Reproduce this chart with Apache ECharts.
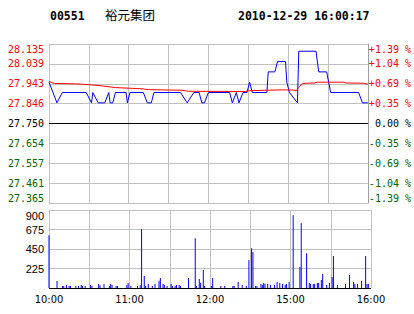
<!DOCTYPE html>
<html><head><meta charset="utf-8">
<script src="https://cdn.jsdelivr.net/npm/echarts@6/dist/echarts.min.js"></script>
<style>html,body{margin:0;padding:0;background:#fff}#c{width:414px;height:314px}</style>
</head><body><div id="c"></div>
<script>
const stockCode = '00551';
const stockName = '裕元集团';
const stamp = '2010-12-29 16:00:17';
const prevClose = 27.75;
const priceMin = 27.365, priceMax = 28.135, priceStep = 0.09625;
const priceTickLabels = ['27.365','27.461','27.557','27.654','27.750','27.846','27.943','28.039','28.135'];
const pctTickLabels = ['-1.39 %','-1.04 %','-0.69 %','-0.35 %',' 0.00 %','+0.35 %','+0.69 %','+1.04 %','+1.39 %'];
const volTickLabels = ['', '225', '450', '675', '900'];
const timeTickMinutes = [0, 60, 120, 180, 240];
const timeTickLabels = ['10:00', '11:00', '12:00', '15:00', '16:00'];

// minute index since 10:00 (trading minutes), last price
const priceMinutes = [0,6,10,28,32,33,37,42,45,46,48,50,58,59,61,71,74,77,79,99,104,109,113,115,117,120,136,138,141,143,146,149,151,153,164,165,170,172,178,179,181,187,188,201,203,209,212,233,236,240];
const priceValues  = [27.95,27.85,27.90,27.90,27.85,27.90,27.85,27.85,27.90,27.85,27.85,27.90,27.90,27.85,27.90,27.90,27.85,27.85,27.90,27.90,27.85,27.90,27.90,27.85,27.85,27.90,27.90,27.85,27.90,27.85,27.90,27.90,27.95,27.90,27.90,28.00,28.00,28.05,28.05,27.95,27.90,27.85,28.10,28.10,28.00,28.00,27.90,27.90,27.85,27.85];

// average price
const avgMinutes = [0,4,20,30,40,50,60,70,75,100,105,148,151,176,184,186,188,190,193,200,202,222,224,237,240];
const avgValues  = [27.953,27.944,27.942,27.938,27.932,27.924,27.921,27.918,27.914,27.911,27.906,27.905,27.909,27.913,27.912,27.908,27.925,27.940,27.945,27.946,27.950,27.950,27.946,27.945,27.940];

// volume per minute
const volMinutes = [0,6,10,11,13,15,16,20,22,24,25,27,31,32,37,38,41,45,46,47,50,51,58,59,61,66,68,69,71,72,74,77,79,82,83,85,86,88,91,92,94,95,97,98,104,109,110,112,113,115,116,121,122,128,131,137,138,141,144,147,149,151,152,154,155,158,159,160,161,163,165,168,170,172,174,176,177,179,182,187,188,192,194,195,197,198,200,201,203,204,207,209,211,212,215,221,224,227,228,230,233,236,237,238];
const volValues  = [609,80,23,23,35,23,23,23,23,35,23,23,35,23,46,31,46,23,46,34,23,23,34,57,23,23,31,678,138,23,46,23,46,84,115,46,34,23,46,23,23,34,34,23,115,574,23,103,61,207,23,23,115,23,23,23,23,69,34,23,322,460,414,23,23,46,34,57,50,46,38,34,69,57,46,38,46,69,839,241,747,402,57,46,46,46,57,57,92,161,34,57,126,368,34,46,149,69,46,46,80,368,46,46];

const RED = '#ff0000', GREEN = '#006400', BLACK = '#000000', GRID = '#c0c0c0';
const MONO = '"DejaVu Sans Mono", monospace';
const SANS = '"Liberation Sans", Arial, sans-serif';

function priceIdx(v) { return Math.round((parseFloat(v) - priceMin) / priceStep); }
function signColor(v) {
  const i = priceIdx(v);
  return i > 4 ? RED : (i < 4 ? GREEN : BLACK);
}

const chart = echarts.init(document.getElementById('c'), null, { renderer: 'svg' });
chart.setOption({
  animation: false,
  backgroundColor: '#ffffff',
  graphic: [
    { type: 'text', left: 50, top: 10, style: { text: stockCode, font: 'bold 11.5px ' + MONO, fill: '#000' } },
    { type: 'text', left: 105, top: 8, style: { text: stockName, font: '12.5px "Noto Sans CJK SC", sans-serif', fill: '#000' } },
    { type: 'text', left: 238, top: 10, style: { text: stamp, font: 'bold 11.5px ' + MONO, fill: '#000' } }
  ],
  grid: [
    { left: 49, width: 322, top: 44, height: 159 },
    { left: 49, width: 322, top: 210, height: 78 }
  ],
  xAxis: [
    { gridIndex: 0, type: 'value', min: 0, max: 240, interval: 30,
      axisLine: { show: false }, axisTick: { show: false }, axisLabel: { show: false },
      splitLine: { show: true, lineStyle: { color: GRID, width: 1 } } },
    { gridIndex: 1, type: 'value', min: 0, max: 240, interval: 30,
      axisLine: { show: false }, axisTick: { show: false },
      axisLabel: { show: true, margin: 6, color: '#000', fontSize: 11, fontFamily: '"Liberation Sans Narrow", "DejaVu Sans Condensed", sans-serif',
        showMinLabel: true, showMaxLabel: true,
        formatter: function (v) { const i = timeTickMinutes.indexOf(Math.round(v)); return i >= 0 ? timeTickLabels[i] : ''; } },
      splitLine: { show: true, lineStyle: { color: GRID, width: 1 } } }
  ],
  yAxis: [
    { gridIndex: 0, type: 'value', min: priceMin, max: priceMax, interval: priceStep, position: 'left',
      axisLine: { show: false }, axisTick: { show: false },
      axisLabel: { margin: 5, fontSize: 10, fontFamily: MONO, showMinLabel: true, showMaxLabel: true,
        verticalAlignMinLabel: 'bottom', verticalAlignMaxLabel: 'top',
        formatter: function (v) { return priceTickLabels[priceIdx(v)] || ''; },
        color: function (v) { return signColor(v); } },
      splitLine: { show: true, lineStyle: { color: GRID, width: 1 } } },
    { gridIndex: 0, type: 'value', min: priceMin, max: priceMax, interval: priceStep, position: 'right',
      axisLine: { show: true, lineStyle: { color: '#a0a0a0' } }, axisTick: { show: false },
      axisLabel: { margin: 1, fontSize: 10, fontFamily: MONO, showMinLabel: true, showMaxLabel: true,
        verticalAlignMinLabel: 'bottom', verticalAlignMaxLabel: 'top',
        formatter: function (v) { return pctTickLabels[priceIdx(v)] || ''; },
        color: function (v) { return signColor(v); } },
      splitLine: { show: false } },
    { gridIndex: 1, type: 'value', min: 0, max: 900, interval: 225, position: 'left',
      axisLine: { show: false }, axisTick: { show: false },
      axisLabel: { margin: 5, fontSize: 11, fontFamily: SANS, color: '#000', verticalAlignMaxLabel: 'top',
        formatter: function (v) { return volTickLabels[Math.round(v / 225)] || ''; } },
      splitLine: { show: true, lineStyle: { color: GRID, width: 1 } } }
  ],
  series: [
    { type: 'line', xAxisIndex: 0, yAxisIndex: 0, showSymbol: false, symbol: 'none',
      data: priceMinutes.map((m, i) => [m, priceValues[i]]),
      lineStyle: { color: '#0000ff', width: 1 }, z: 3,
      markLine: { silent: true, symbol: 'none', label: { show: false },
        lineStyle: { color: BLACK, width: 1, type: 'solid' },
        data: [{ yAxis: prevClose }, { yAxis: priceMin }] } },
    { type: 'line', xAxisIndex: 0, yAxisIndex: 0, showSymbol: false, symbol: 'none',
      data: avgMinutes.map((m, i) => [m, avgValues[i]]),
      lineStyle: { color: RED, width: 1 }, z: 4 },
    { type: 'bar', xAxisIndex: 1, yAxisIndex: 2, barWidth: 1,
      data: volMinutes.map((m, i) => [m, volValues[i]]),
      itemStyle: { color: '#0000ff' },
      markLine: { silent: true, symbol: 'none', label: { show: false },
        lineStyle: { color: BLACK, width: 1, type: 'solid' },
        data: [{ yAxis: 0 }] } }
  ]
});
</script>
</body></html>
